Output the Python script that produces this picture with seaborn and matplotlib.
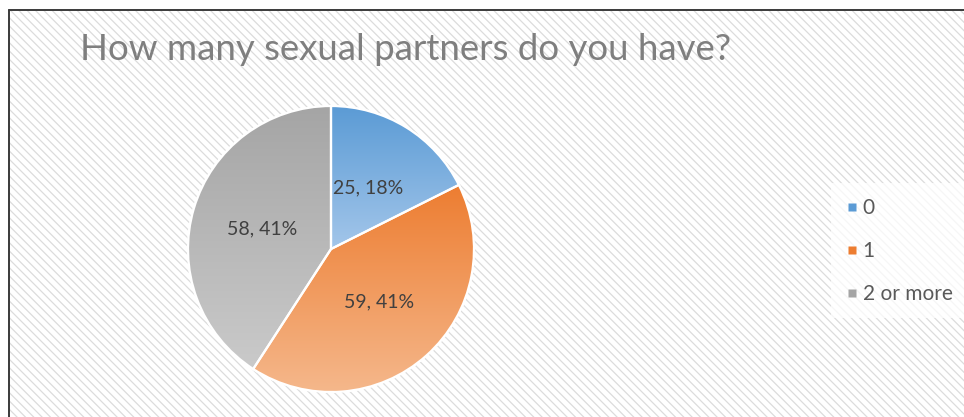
import matplotlib.pyplot as plt
import matplotlib.patches as mpatches
from matplotlib.lines import Line2D
import seaborn as sns
import numpy as np

# data
categories = ['0', '1', '2 or more']
counts = [25, 59, 58]
pct_labels = ['18%', '41%', '41%']   # as printed on the chart
title = 'How many sexual partners do you have?'

# Excel-ish gradient colours (top -> bottom)
top_colors = ['#5B9BD5', '#ED7D31', '#A5A5A5']
bottom_colors = ['#A3C6EA', '#F5B88C', '#CACACA']

sns.set_style('white')
plt.rcParams['font.family'] = ['Lato', 'DejaVu Sans']
plt.rcParams['hatch.linewidth'] = 0.9

W, H = 964, 417
fig = plt.figure(figsize=(W / 100, H / 100), dpi=100)

# hatched chart area with a dark frame on the left and top
bg = mpatches.Rectangle((9 / W, 0), 1, 1 - 10 / H, transform=fig.transFigure,
                        facecolor='white', edgecolor='#DCDCDC', hatch='\\\\\\\\',
                        linewidth=0, zorder=-5)
fig.patches.append(bg)
fig.add_artist(Line2D([9 / W, 9 / W], [0, 1 - 10 / H], color='#3A3A3A', lw=1.4,
                      transform=fig.transFigure))
fig.add_artist(Line2D([9 / W, 1], [1 - 10 / H, 1 - 10 / H], color='#3A3A3A', lw=1.4,
                      transform=fig.transFigure))

fig.text(80 / W, 1 - 60 / H, title, fontsize=26.4, color='#7F7F7F',
         va='baseline', ha='left')

cx, cy, r = 331, 249, 143
ax = fig.add_axes([(cx - r) / W, (H - cy - r) / H, 2 * r / W, 2 * r / H], zorder=2)
ax.patch.set_alpha(0)

wedges, texts = ax.pie(
    counts, startangle=90, counterclock=False, radius=1, colors=top_colors,
    wedgeprops=dict(edgecolor='white', linewidth=1.6))

# data labels "value, pct" at half radius
for w, n, p in zip(wedges, counts, pct_labels):
    ang = np.deg2rad((w.theta1 + w.theta2) / 2)
    ax.text(0.5 * np.cos(ang), 0.5 * np.sin(ang), f'{n}, {p}', ha='center',
            va='center', fontsize=14, color='#404040', zorder=5)

# vertical gradient fill per wedge, clipped to the wedge shape
for w, c_top, c_bot in zip(wedges, top_colors, bottom_colors):
    verts = w.get_path().vertices
    y0, y1 = verts[:, 1].min(), verts[:, 1].max()
    x0, x1 = verts[:, 0].min(), verts[:, 0].max()
    grad = sns.blend_palette([c_top, c_bot], n_colors=256)
    img = np.array(grad)[:, None, :]
    im = ax.imshow(img, extent=[x0, x1, y0, y1], origin='upper', aspect='auto',
                   zorder=w.get_zorder() + 0.1, interpolation='bilinear')
    im.set_clip_path(w)
    edge = mpatches.Wedge((0, 0), 1, w.theta1, w.theta2, facecolor='none',
                          edgecolor='white', linewidth=1.6, zorder=w.get_zorder() + 0.2)
    ax.add_patch(edge)
ax.set_xlim(-1, 1)
ax.set_ylim(-1, 1)
ax.set_aspect('equal')
ax.axis('off')

handles = [Line2D([], [], marker='s', linestyle='none', markersize=6,
                  markerfacecolor=c, markeredgecolor='none') for c in top_colors]
leg = fig.legend(handles, categories, loc='upper left',
                 bbox_to_anchor=(821 / W, 1 - 173 / H), frameon=True,
                 fontsize=15, labelspacing=1.1, handlelength=0.6,
                 handletextpad=0.2, borderpad=0.7, fancybox=False)
leg.get_frame().set_facecolor('white')
leg.get_frame().set_alpha(0.75)
leg.get_frame().set_edgecolor('none')
for t in leg.get_texts():
    t.set_color('#595959')

fig.savefig('out.png', dpi=100, facecolor='white')
